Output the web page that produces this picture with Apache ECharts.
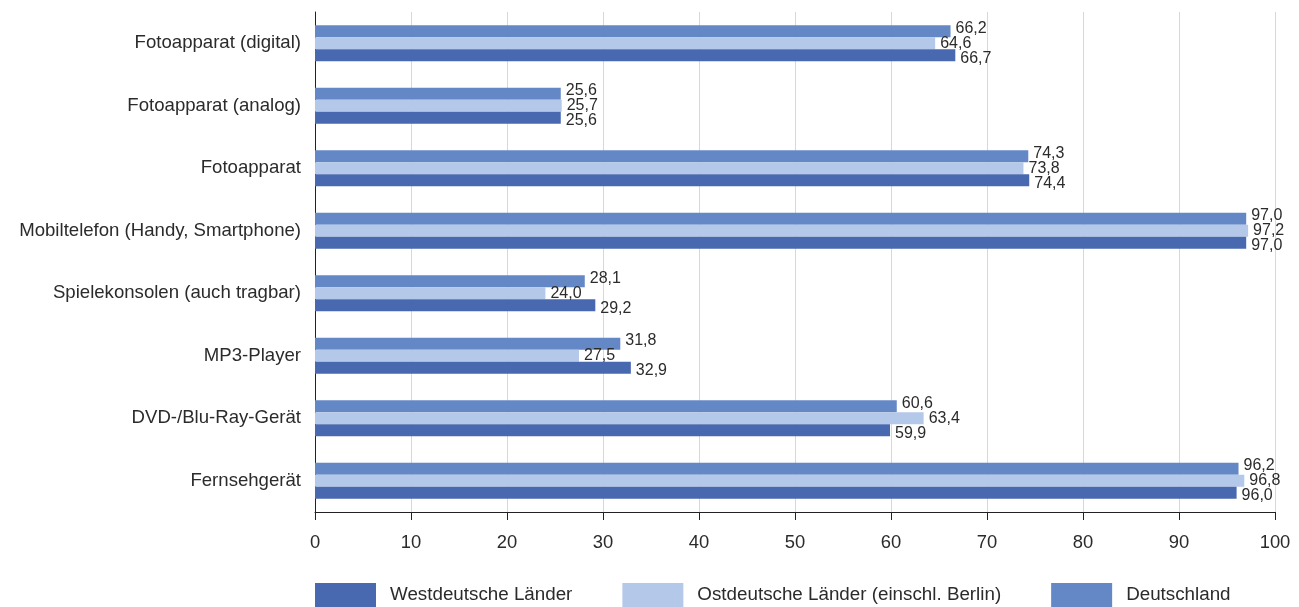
<!DOCTYPE html>
<html><head><meta charset="utf-8">
<script src="https://cdn.jsdelivr.net/npm/echarts@6/dist/echarts.min.js"></script>
<style>html,body{margin:0;padding:0;background:#fff}#c{width:1299px;height:607px}</style>
</head><body><div id="c"></div>
<script>
const categories = ["Fotoapparat (digital)","Fotoapparat (analog)","Fotoapparat","Mobiltelefon (Handy, Smartphone)","Spielekonsolen (auch tragbar)","MP3-Player","DVD-/Blu-Ray-Gerät","Fernsehgerät"];
const west = [66.7,25.6,74.4,97.0,29.2,32.9,59.9,96.0];
const ost = [64.6,25.7,73.8,97.2,24.0,27.5,63.4,96.8];
const deutschland = [66.2,25.6,74.3,97.0,28.1,31.8,60.6,96.2];
const xTicks = [0,10,20,30,40,50,60,70,80,90,100];
const seriesNames = ["Westdeutsche Länder","Ostdeutsche Länder (einschl. Berlin)","Deutschland"];
const colors = ["#4868b0","#b4c9e9","#6487c6"];
const font = "Liberation Sans, Arial, sans-serif";
const textColor = "#2b2b2b";
const chart = echarts.init(document.getElementById('c'));
function mk(name, data, color, dy){
  return {name, type:'bar', data, barWidth:12, barGap:'0%', itemStyle:{color},
    label:{show:true, position:'right', distance:5, offset:[0,dy], color:textColor, fontSize:16, fontFamily:font,
      formatter:p=>p.value.toFixed(1).replace('.',',')}};
}
chart.setOption({
  animation:false,
  textStyle:{fontFamily:font},
  grid:{left:315, right:24, top:12, bottom:95, containLabel:false},
  legend:{bottom:-5, left:310, itemWidth:61, itemHeight:24, itemGap:50,
    icon:'rect', textStyle:{fontSize:18.8, color:textColor, fontFamily:font, padding:[0,0,0,9]},
    data:seriesNames},
  xAxis:{type:'value', min:0, max:100, interval:10,
    axisLine:{show:true, lineStyle:{color:'#222'}},
    axisTick:{show:true, length:8, lineStyle:{color:'#222'}},
    axisLabel:{fontSize:18.4, color:textColor, margin:22, fontFamily:font},
    splitLine:{show:true, lineStyle:{color:'#d0d8ea'}}},
  yAxis:{type:'category', data:categories, inverse:true,
    axisLine:{show:true, lineStyle:{color:'#222'}},
    axisTick:{show:false},
    axisLabel:{fontSize:18.6, color:textColor, margin:14, fontFamily:font}},
  series:[mk(seriesNames[2], deutschland, colors[2], -3), mk(seriesNames[1], ost, colors[1], 0), mk(seriesNames[0], west, colors[0], 3)]
});
</script></body></html>
